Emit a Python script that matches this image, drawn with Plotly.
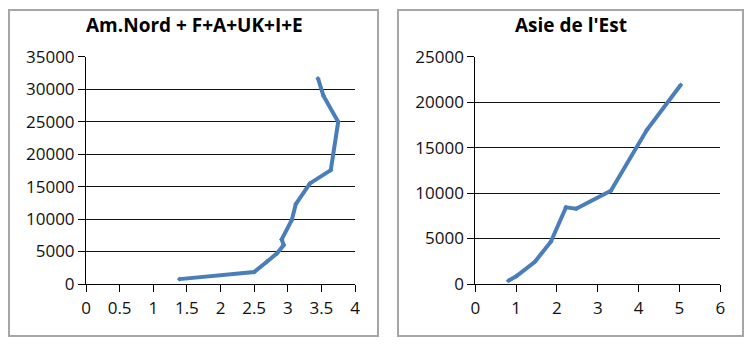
import plotly.graph_objects as go

# Left panel: Am.Nord + F+A+UK+I+E
left_title = "Am.Nord + F+A+UK+I+E"
left_x = [1.39, 2.5, 2.69, 2.84, 2.94, 2.91, 3.06, 3.12, 3.33, 3.64, 3.75, 3.53, 3.45]
left_y = [750, 1850, 3430, 4720, 6000, 6870, 9850, 12300, 15490, 17540, 24970, 29000, 31640]
left_xticks = [0, 0.5, 1, 1.5, 2, 2.5, 3, 3.5, 4]
left_yticks = [0, 5000, 10000, 15000, 20000, 25000, 30000, 35000]

# Right panel: Asie de l'Est
right_title = "Asie de l'Est"
right_x = [0.81, 1.01, 1.46, 1.85, 2.22, 2.47, 3.32, 4.2, 5.03]
right_y = [360, 880, 2450, 4650, 8430, 8280, 10260, 16930, 21880]
right_xticks = [0, 1, 2, 3, 4, 5, 6]
right_yticks = [0, 5000, 10000, 15000, 20000, 25000]

LINE = "#4a7ebb"
FONT = "Open Sans, DejaVu Sans, sans-serif"
W, H = 754, 346

fig = go.Figure()
fig.add_trace(go.Scatter(x=left_x, y=left_y, mode="lines+markers",
                         line=dict(color=LINE, width=4),
                         marker=dict(symbol="diamond", size=4, color=LINE),
                         xaxis="x", yaxis="y", showlegend=False))
fig.add_trace(go.Scatter(x=right_x, y=right_y, mode="lines+markers",
                         line=dict(color=LINE, width=4),
                         marker=dict(symbol="diamond", size=4, color=LINE),
                         xaxis="x2", yaxis="y2", showlegend=False))

def px_x(v):
    return v / W

def px_y(v):
    return (H - v) / H

ydom = [px_y(284), px_y(56.7)]

common_x = dict(showgrid=False, zeroline=False, showline=True, linecolor="#000", linewidth=1,
                ticks="outside", ticklen=7, tickcolor="#000", tickwidth=1, automargin=False,
                ticklabelstandoff=2,
                tickfont=dict(family=FONT, size=17, color="#111"), fixedrange=True)
common_y = dict(showgrid=True, gridcolor="#111", gridwidth=1.2, zeroline=False,
                showline=True, linecolor="#000", linewidth=1, automargin=False,
                ticks="outside", ticklen=7, tickcolor="#000", tickwidth=1,
                tickfont=dict(family=FONT, size=17, color="#111"), tickformat="d",
                fixedrange=True)

fig.update_layout(
    template="none",
    width=W, height=H, autosize=False,
    margin=dict(l=0, r=0, t=0, b=0, pad=0),
    paper_bgcolor="white", plot_bgcolor="white",
    xaxis=dict(domain=[px_x(86), px_x(355)], range=[0, 4], tickvals=left_xticks,
               anchor="y", **common_x),
    yaxis=dict(domain=ydom, range=[0, 35000], tickvals=left_yticks, anchor="x", **common_y),
    xaxis2=dict(domain=[px_x(475.3), px_x(720.3)], range=[0, 6], tickvals=right_xticks,
                anchor="y2", **common_x),
    yaxis2=dict(domain=ydom, range=[0, 25000], tickvals=right_yticks, anchor="x2", **common_y),
    shapes=[
        dict(type="rect", xref="paper", yref="paper",
             x0=px_x(9), x1=px_x(378), y0=px_y(336), y1=px_y(10),
             line=dict(color="#a6a6a6", width=2), layer="below"),
        dict(type="rect", xref="paper", yref="paper",
             x0=px_x(398), x1=px_x(743), y0=px_y(336), y1=px_y(10),
             line=dict(color="#a6a6a6", width=2), layer="below"),
    ],
    annotations=[
        dict(text="<b>" + left_title + "</b>", xref="paper", yref="paper",
             x=px_x(194), y=px_y(25), xanchor="center", yanchor="middle", showarrow=False,
             font=dict(family=FONT, size=19, color="#000")),
        dict(text="<b>" + right_title + "</b>", xref="paper", yref="paper",
             x=px_x(571), y=px_y(25), xanchor="center", yanchor="middle", showarrow=False,
             font=dict(family=FONT, size=19, color="#000")),
    ],
)

fig.write_html("out.html")
